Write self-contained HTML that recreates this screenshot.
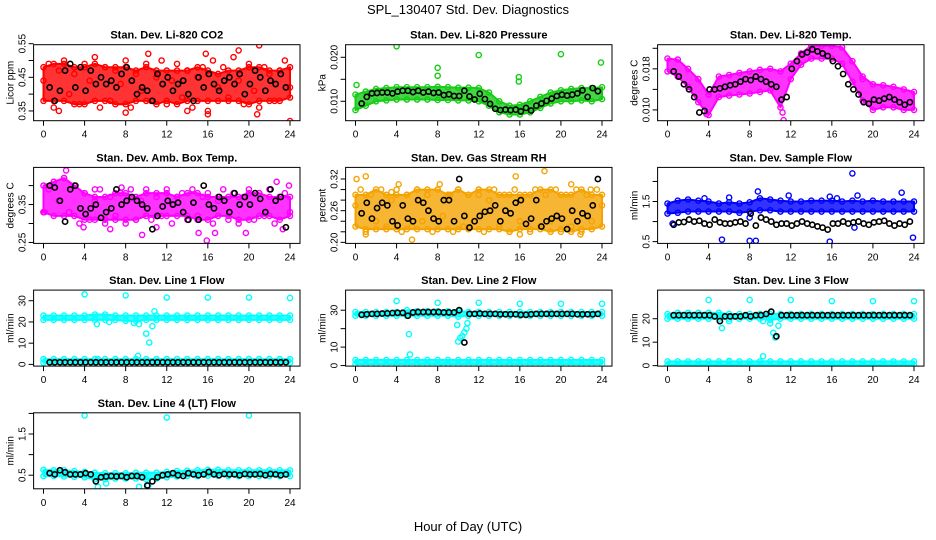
<!DOCTYPE html>
<html><head><meta charset="utf-8"><style>
body{margin:0;background:#fff}
svg{display:block;font-family:"Liberation Sans",Arial,sans-serif}
</style></head><body>
<svg id="chart" width="936" height="540" viewBox="0 0 936 540">
<text x="468" y="14" text-anchor="middle" font-size="13">SPL_130407  Std. Dev. Diagnostics</text>
<text x="468" y="531" text-anchor="middle" font-size="13">Hour of Day (UTC)</text>
</svg>
<script>
const xTicks=[0,4,8,12,16,20,24];
// CO2
const co2Hi=[0.48,0.49,0.49,0.48,0.48,0.49,0.48,0.48,0.48,0.47,0.48,0.47,0.47,0.47,0.47,0.48,0.47,0.46,0.47,0.47,0.48,0.48,0.47,0.47,0.48];
const co2Lo=[0.38,0.38,0.38,0.37,0.37,0.38,0.38,0.37,0.37,0.38,0.38,0.37,0.38,0.37,0.38,0.38,0.38,0.38,0.38,0.38,0.37,0.38,0.38,0.38,0.39];
const co2Scatter=[0.44,0.49,0.36,0.47,0.50,0.40,0.46,0.37,0.49,0.44,0.51,0.36,0.48,0.38,0.47,0.43,0.50,0.36,0.46,0.41,0.49,0.38,0.45,0.50,0.37,0.44,0.49,0.39,0.47,0.36,0.45,0.48,0.35,0.50,0.42,0.48,0.39,0.51,0.44,0.37,0.49,0.41,0.36,0.48,0.46,0.38,0.47,0.50,0.42];
const co2Outliers=[[1.5,0.35],[8,0.345],[14,0.35],[16,0.34],[19,0.53],[20.8,0.34],[21,0.545],[24,0.32],[10.2,0.52],[15.8,0.52]];
const co2Black=[0.42,0.38,0.41,0.47,0.49,0.42,0.48,0.41,0.47,0.43,0.45,0.43,0.44,0.42,0.46,0.48,0.44,0.40,0.42,0.41,0.38,0.46,0.43,0.45,0.41,0.43,0.44,0.40,0.38,0.45,0.42,0.46,0.43,0.41,0.44,0.45,0.43,0.46,0.40,0.43,0.47,0.45,0.41,0.44,0.43,0.46,0.42];
// Pressure
const presHi=[0.0115,0.0122,0.0128,0.0130,0.0132,0.0132,0.0132,0.0132,0.0133,0.0132,0.0131,0.0131,0.0130,0.0120,0.0100,0.0090,0.0092,0.0100,0.0110,0.0120,0.0125,0.0128,0.0130,0.0130,0.0132];
const presLo=[0.0080,0.0090,0.0100,0.0102,0.0104,0.0104,0.0104,0.0104,0.0103,0.0103,0.0102,0.0102,0.0100,0.0090,0.0075,0.0070,0.0070,0.0075,0.0085,0.0095,0.0100,0.0100,0.0102,0.0100,0.0105];
const presOutliers=[[0.1,0.0137],[4,0.0225],[8,0.0176],[8,0.0158],[12,0.0205],[15.9,0.0155],[15.9,0.0145],[20,0.0207],[23.9,0.0188]];
const presBlack=[0.0095,0.0110,0.0118,0.0119,0.0120,0.0120,0.0118,0.0122,0.0124,0.0124,0.0121,0.0124,0.0120,0.0122,0.0119,0.0120,0.0114,0.0116,0.0112,0.0112,0.0124,0.0111,0.0104,0.0117,0.0105,0.0094,0.0083,0.0080,0.0081,0.0080,0.0081,0.0077,0.0085,0.0079,0.0090,0.0095,0.0101,0.0106,0.0112,0.0115,0.0113,0.0115,0.0118,0.0125,0.0110,0.0130,0.0123];
// Li-820 temp
const tempHi=[0.0200,0.0198,0.0180,0.0160,0.0130,0.0165,0.0168,0.0172,0.0175,0.0178,0.0180,0.0175,0.0190,0.0210,0.0225,0.0225,0.0225,0.0222,0.0195,0.0165,0.0150,0.0148,0.0145,0.0140,0.0135];
const tempLo=[0.0175,0.0165,0.0145,0.0115,0.0090,0.0125,0.0128,0.0130,0.0132,0.0135,0.0138,0.0105,0.0160,0.0188,0.0200,0.0200,0.0200,0.0190,0.0155,0.0118,0.0100,0.0105,0.0105,0.0100,0.0100];
const tempOutliers=[[11.3,0.0080],[19,0.0160],[3.8,0.0092],[11.2,0.0095]];
const tempBlack=[0.0175,0.0165,0.0150,0.0140,0.0125,0.0095,0.0098,0.0140,0.0140,0.0142,0.0145,0.0148,0.0150,0.0155,0.0160,0.0158,0.0165,0.0160,0.0155,0.0150,0.0145,0.0120,0.0125,0.0180,0.0195,0.0208,0.0212,0.0218,0.0214,0.0210,0.0205,0.0195,0.0185,0.0170,0.0150,0.0140,0.0130,0.0115,0.0112,0.0120,0.0118,0.0122,0.0125,0.0120,0.0115,0.0110,0.0115];
// Amb box temp
const ambHi=[0.40,0.41,0.42,0.40,0.38,0.37,0.37,0.38,0.38,0.37,0.38,0.38,0.38,0.37,0.38,0.38,0.37,0.37,0.37,0.37,0.38,0.38,0.37,0.37,0.37];
const ambLo=[0.33,0.32,0.32,0.32,0.31,0.31,0.31,0.31,0.31,0.31,0.32,0.32,0.32,0.32,0.32,0.31,0.31,0.32,0.32,0.31,0.31,0.32,0.32,0.31,0.32];
const ambScatter=[0.33,0.39,0.41,0.36,0.42,0.33,0.40,0.30,0.38,0.31,0.36,0.39,0.30,0.37,0.32,0.38,0.30,0.39,0.31,0.36,0.39,0.31,0.37,0.32,0.39,0.30,0.37,0.38,0.31,0.39,0.32,0.37,0.38,0.30,0.36,0.39,0.31,0.38,0.30,0.37,0.39,0.31,0.38,0.32,0.39,0.30,0.37,0.38,0.33];
const ambOutliers=[[2.2,0.44],[3.9,0.29],[6.5,0.285],[9.6,0.27],[11,0.29],[15.1,0.275],[15.9,0.255],[16.7,0.275],[19.7,0.275],[22.7,0.41],[23.3,0.285],[23.9,0.40],[5,0.39],[7.6,0.395],[0.1,0.33]];
const ambBlack=[0.40,0.395,0.36,0.305,0.39,0.40,0.34,0.325,0.34,0.35,0.315,0.33,0.34,0.39,0.35,0.36,0.37,0.36,0.35,0.34,0.285,0.32,0.345,0.36,0.35,0.355,0.33,0.31,0.355,0.31,0.40,0.35,0.34,0.37,0.36,0.33,0.38,0.35,0.37,0.35,0.38,0.365,0.33,0.39,0.36,0.37,0.29];
// Gas stream RH
const rhHi=[0.29,0.29,0.30,0.29,0.29,0.29,0.30,0.30,0.30,0.29,0.30,0.29,0.30,0.30,0.29,0.29,0.29,0.29,0.30,0.30,0.29,0.29,0.30,0.29,0.29];
const rhLo=[0.23,0.225,0.225,0.225,0.225,0.225,0.225,0.225,0.225,0.225,0.225,0.225,0.225,0.225,0.225,0.22,0.225,0.225,0.225,0.22,0.225,0.22,0.225,0.225,0.23];
const rhScatter=[0.27,0.30,0.22,0.29,0.24,0.30,0.23,0.28,0.30,0.22,0.29,0.23,0.30,0.24,0.29,0.22,0.30,0.25,0.29,0.22,0.30,0.23,0.29,0.24,0.30,0.22,0.28,0.30,0.23,0.29,0.22,0.30,0.24,0.29,0.22,0.30,0.23,0.29,0.24,0.30,0.22,0.29,0.23,0.30,0.22,0.29,0.24,0.30,0.27];
const rhOutliers=[[0.1,0.32],[1,0.325],[5.5,0.205],[4.2,0.31],[8.2,0.31],[15.6,0.325],[18.4,0.335],[21,0.31],[16,0.215],[21.9,0.215],[1,0.215],[9.2,0.29],[12,0.29],[22.9,0.30],[3.5,0.295]];
const rhBlack=[0.255,0.275,0.245,0.265,0.275,0.27,0.24,0.232,0.27,0.245,0.24,0.28,0.275,0.26,0.245,0.24,0.28,0.28,0.24,0.32,0.25,0.228,0.24,0.25,0.258,0.26,0.27,0.24,0.26,0.255,0.275,0.28,0.235,0.245,0.28,0.23,0.24,0.245,0.25,0.245,0.225,0.26,0.24,0.255,0.25,0.27,0.32];
// Sample flow
const sfHi=[1.45,1.52,1.55,1.52,1.50,1.45,1.48,1.45,1.48,1.58,1.55,1.52,1.50,1.50,1.52,1.52,1.52,1.50,1.52,1.50,1.52,1.50,1.50,1.50,1.50];
const sfLo=[1.20,1.22,1.25,1.25,1.25,1.25,1.25,1.22,1.25,1.28,1.28,1.25,1.25,1.25,1.25,1.25,1.25,1.25,1.25,1.25,1.25,1.25,1.25,1.25,1.25];
const sfOutliers=[[0.5,0.95],[5.3,0.55],[8,0.52],[8.6,0.52],[15.8,0.5],[18,2.2],[23.9,0.6],[8.8,1.75],[11.8,1.65],[15.8,1.62],[18.5,1.65],[22.8,1.72],[3.6,1.58],[6,1.6],[16.5,1.58],[8,1.1],[18.2,0.85]];
const sfBlack=[0.92,0.98,0.99,1.05,1.0,1.02,0.95,0.92,1.05,0.98,0.95,0.95,0.98,1.0,0.95,1.2,0.9,1.1,1.05,1.0,0.92,0.95,0.95,0.9,0.95,1.0,0.95,0.92,0.88,0.85,0.8,0.95,0.95,1.0,0.95,0.98,1.0,0.95,0.92,0.98,1.0,1.02,0.95,0.9,0.95,0.92,1.0];
// Line 1
const l1Hi=[23,23,23,23,23,23.5,23.5,23,23,23,23,23,23,23,23,23,23,23,23,23,23,23,23,23,23];
const l1Lo=[21,21,21,21,21,21,21,21,20.5,20.5,21,21,21,21,21,21,21,21,21,21,21,21,21,21,21];
const l1LowHi=[2.5,2.5,2.5,2.5,2.5,2.5,2.5,2.5,2.5,2.5,2.5,2.5,2.5,2.5,2.5,2.5,2.5,2.5,2.5,2.5,2.5,2.5,2.5,2.5,2.5];
const l1LowLo=[0.8,0.8,0.8,0.8,0.8,0.8,0.8,0.8,0.8,0.8,0.8,0.8,0.8,0.8,0.8,0.8,0.8,0.8,0.8,0.8,0.8,0.8,0.8,0.8,0.8];
const l1Outliers=[[4,33],[8,32.5],[12,31.5],[16,31.5],[20,31.5],[24,31.3],[5.2,19],[6.4,20],[8.8,19.5],[9.3,19],[10,14.5],[10.3,10.3],[10.6,18],[10.8,25],[9.2,4],[5.3,2.5]];
const l1Black=[1,1,1,1,1,1,1,1,1,1,1,1,1,1,1,1,1,1,1,1,1,1,1,1,1,1,1,1,1,1,1,1,1,1,1,1,1,1,1,1,1,1,1,1,1,1,1];
// Line 2
const l2Hi=[29,29,29,29,29,30,29.5,29.5,29.5,29.5,29.5,29,29,29,29,29,29,29,29,29,29,29,29,29,29];
const l2Lo=[27,27,27,27,27,27,27,27,27,27,26.5,27,27,27,27,27,27,27,27,27,27,27,27,27,27];
const l2LowHi=[3,3,3,3,3,3,3,3,3,3,3,3,3,3,3,3,3,3,3,3,3,3,3,3,3];
const l2LowLo=[0.8,0.8,0.8,0.8,0.8,0.8,0.8,0.8,0.8,0.8,0.8,0.8,0.8,0.8,0.8,0.8,0.8,0.8,0.8,0.8,0.8,0.8,0.8,0.8,0.8];
const l2Outliers=[[4,35],[8,34],[12,34],[16,33.5],[20,33.5],[24,33.5],[5.2,17],[5.3,6],[8.6,0],[10,13],[10.2,15],[10.4,16],[10.6,18],[10.8,20],[10.9,23],[9.9,22]];
const l2Black=[27.5,27.8,28,28,28.2,28.3,28.5,28.6,28.6,27,28.8,29,29,29,29,29,28.8,28.8,28.8,30,12.5,28,28,28.2,28,28,28,27.8,27.8,27.8,27.8,27.5,27.5,27.8,28,28,28,28,28,28,28,28,27.8,27.8,27.8,27.8,28];
// Line 3
const l3Hi=[22,22.5,22.5,22.5,22.5,22.5,22,22,22,22,22,22,22,22,22,22,22,22,22,22,22,22,22,22,22];
const l3Lo=[20,20,20,20,20,20,20,20,20,20,19.5,20,20,20,20,20,20,20,20,20,20,20,20,20,20];
const l3LowHi=[1.8,1.8,1.8,1.8,1.8,1.8,1.8,1.8,1.8,1.8,1.8,1.8,1.8,1.8,1.8,1.8,1.8,1.8,1.8,1.8,1.8,1.8,1.8,1.8,1.8];
const l3LowLo=[0.3,0.3,0.3,0.3,0.3,0.3,0.3,0.3,0.3,0.3,0.3,0.3,0.3,0.3,0.3,0.3,0.3,0.3,0.3,0.3,0.3,0.3,0.3,0.3,0.3];
const l3Outliers=[[4,28],[8,28],[12,28],[16,27.5],[20,27.5],[24,27.5],[5.3,16],[6,19],[9.3,19],[10,18],[10.3,14],[10.5,12],[10.8,17],[9.3,4],[6,2]];
const l3Black=[21.5,21.5,21.5,21.5,21.5,21.5,21.5,21.5,21,19,21,21,21,21,21.5,21,21.5,21.5,22,23,12.5,21.5,21.5,21.5,21.5,21.5,21.5,21.5,21.5,21.5,21.5,21.5,21.5,21.5,21.5,21.5,21.5,21.5,21.5,21.5,21.5,21.5,21.5,21.5,21.5,21.5,21.5];
// Line 4
const l4Hi=[0.63,0.62,0.62,0.60,0.58,0.56,0.55,0.55,0.55,0.56,0.56,0.56,0.58,0.60,0.61,0.62,0.63,0.63,0.62,0.62,0.62,0.62,0.62,0.62,0.62];
const l4Lo=[0.48,0.48,0.47,0.46,0.45,0.40,0.40,0.42,0.42,0.42,0.40,0.42,0.45,0.47,0.48,0.48,0.49,0.49,0.48,0.48,0.48,0.48,0.48,0.48,0.48];
const l4Outliers=[[4,1.95],[12,1.9],[20,1.95],[5.3,0.22],[6.1,0.3],[9.3,0.22],[10.2,0.25]];
const l4Black=[0.55,0.52,0.62,0.57,0.52,0.52,0.52,0.55,0.52,0.35,0.45,0.47,0.48,0.47,0.48,0.45,0.48,0.48,0.45,0.25,0.35,0.45,0.5,0.52,0.55,0.5,0.48,0.55,0.52,0.5,0.52,0.58,0.52,0.5,0.53,0.52,0.52,0.5,0.53,0.52,0.52,0.53,0.5,0.53,0.52,0.5,0.52];

const panels=[
 {name:'co2',title:'Stan. Dev. Li-820 CO2',yt:'Licor ppm',dom:[0.321,0.547],ticks:[0.35,0.40,0.45,0.50,0.55],labels:['0.35','','0.45','','0.55'],color:'#ff0000',bands:[[co2Hi,co2Lo]],scatter:co2Scatter,out:co2Outliers,black:co2Black},
 {name:'pressure',title:'Stan. Dev. Li-820 Pressure',yt:'kPa',dom:[0.00559,0.02286],ticks:[0.010,0.015,0.020],labels:['0.010','','0.020'],color:'#16cc16',bands:[[presHi,presLo]],scatter:null,out:presOutliers,black:presBlack},
 {name:'li820-temp',title:'Stan. Dev. Li-820 Temp.',yt:'degrees C',dom:[0.0079,0.0227],ticks:[0.010,0.014,0.018,0.022],labels:['0.010','','0.018',''],color:'#ff00ff',bands:[[tempHi,tempLo]],scatter:null,out:tempOutliers,black:tempBlack},
 {name:'amb-box-temp',title:'Stan. Dev. Amb. Box Temp.',yt:'degrees C',dom:[0.2475,0.448],ticks:[0.25,0.30,0.35,0.40],labels:['0.25','','0.35',''],color:'#ff00ff',bands:[[ambHi,ambLo]],scatter:ambScatter,out:ambOutliers,black:ambBlack},
 {name:'gas-stream-rh',title:'Stan. Dev. Gas Stream RH',yt:'percent',dom:[0.198,0.342],ticks:[0.20,0.22,0.24,0.26,0.28,0.30,0.32],labels:['0.20','','','0.26','','','0.32'],color:'#f4a300',bands:[[rhHi,rhLo]],scatter:rhScatter,out:rhOutliers,black:rhBlack},
 {name:'sample-flow',title:'Stan. Dev. Sample Flow',yt:'ml/min',dom:[0.456,2.35],ticks:[0.5,1.0,1.5,2.0],labels:['0.5','','1.5',''],color:'#0000ff',bands:[[sfHi,sfLo]],scatter:null,out:sfOutliers,black:sfBlack},
 {name:'line1-flow',title:'Stan. Dev. Line 1 Flow',yt:'ml/min',dom:[-0.8,35],ticks:[0,10,20,30],labels:['0','10','20','30'],color:'#00ffff',bands:[[l1Hi,l1Lo],[l1LowHi,l1LowLo]],scatter:null,out:l1Outliers,black:l1Black},
 {name:'line2-flow',title:'Stan. Dev. Line 2 Flow',yt:'ml/min',dom:[-0.3,40.9],ticks:[0,10,20,30],labels:['0','10','','30'],color:'#00ffff',bands:[[l2Hi,l2Lo],[l2LowHi,l2LowLo]],scatter:null,out:l2Outliers,black:l2Black},
 {name:'line3-flow',title:'Stan. Dev. Line 3 Flow',yt:'ml/min',dom:[-0.2,32.2],ticks:[0,10,20],labels:['0','10','20'],color:'#00ffff',bands:[[l3Hi,l3Lo],[l3LowHi,l3LowLo]],scatter:null,out:l3Outliers,black:l3Black},
 {name:'line4-flow',title:'Stan. Dev. Line 4 (LT) Flow',yt:'ml/min',dom:[0.17,2.015],ticks:[0.5,1.0,1.5,2.0],labels:['0.5','','1.5',''],color:'#00ffff',bands:[[l4Hi,l4Lo]],scatter:null,out:l4Outliers,black:l4Black}
];

const svg=document.getElementById('chart');
const NS='http://www.w3.org/2000/svg';
function mk(tag,attrs,parent){const e=document.createElementNS(NS,tag);for(const k in attrs)e.setAttribute(k,attrs[k]);parent.appendChild(e);return e;}

panels.forEach((p,i)=>{
 const col=i%3,row=Math.floor(i/3);
 const L=33.6+312*col,R=300+312*col,T=44.7+122.7*row,B=T+76;
 const xs=h=>43.5+312*col+h*(246.5/24);
 const ys=v=>B-(v-p.dom[0])/(p.dom[1]-p.dom[0])*(B-T);
 const g=mk('g',{},svg);
 
 
 const clip=mk('clipPath',{id:'c'+i},g);
 mk('rect',{x:L,y:T,width:R-L,height:B-T},clip);
 const plot=mk('g',{'clip-path':'url(#c'+i+')'},g);
 
 
 p.bands.forEach(([hi,lo])=>{
  let pts=hi.map((v,h)=>xs(h)+','+ys(v));
  pts=pts.concat(lo.map((v,h)=>[h,v]).reverse().map(([h,v])=>xs(h)+','+ys(v)));
  const band=mk('polygon',{points:pts.join(' '),fill:p.color,'fill-opacity':0.8,stroke:p.color,'stroke-width':2,'stroke-linejoin':'round'},plot);
  
  
  hi.forEach((v,h)=>{const c=mk('circle',{cx:xs(h),cy:ys(v),r:2.6,fill:'none',stroke:p.color,'stroke-width':1.4},plot);
   
   });
  lo.forEach((v,h)=>{const c=mk('circle',{cx:xs(h),cy:ys(v),r:2.6,fill:'none',stroke:p.color,'stroke-width':1.4},plot);
   
   });
 });
 if(p.scatter){p.scatter.forEach((v,k)=>{const c=mk('circle',{cx:xs(k*0.5),cy:ys(v),r:2.6,fill:'none',stroke:p.color,'stroke-width':1.4},plot);
   
   });}
 p.out.forEach(([h,v])=>{const c=mk('circle',{cx:xs(h),cy:ys(v),r:2.6,fill:'none',stroke:p.color,'stroke-width':1.4},plot);
   
   });
 p.black.forEach((v,k)=>{const c=mk('circle',{cx:xs(0.6+k*0.5),cy:ys(v),r:2.6,fill:'none',stroke:'#000','stroke-width':1.6},plot);
   
   });
 const frame=mk('rect',{x:L,y:T,width:R-L,height:B-T,fill:'none',stroke:'#000','stroke-width':1},g);
 
 
 const tt=mk('text',{x:(L+R)/2,y:T-6,'text-anchor':'middle','font-size':11,'font-weight':'bold'},g);
 tt.textContent=p.title;
 
 
 const yt=mk('text',{transform:`translate(${L-20},${(T+B)/2}) rotate(-90)`,'text-anchor':'middle','font-size':10},g);
 yt.textContent=p.yt;
 
 
 xTicks.forEach(h=>{
  mk('line',{x1:xs(h),x2:xs(h),y1:B,y2:B+5,stroke:'#000'},g);
  const t=mk('text',{x:xs(h),y:B+17,'text-anchor':'middle','font-size':10},g);
  t.textContent=h;
  
  
 });
 p.ticks.forEach((v,k)=>{
  const y=ys(v);
  mk('line',{x1:L-5,x2:L,y1:y,y2:y,stroke:'#000'},g);
  if(p.labels[k]){const t=mk('text',{transform:`translate(${L-8},${y}) rotate(-90)`,'text-anchor':'middle','font-size':10},g);
   t.textContent=p.labels[k];
   
   }
 });
});
</script>
</body></html>
